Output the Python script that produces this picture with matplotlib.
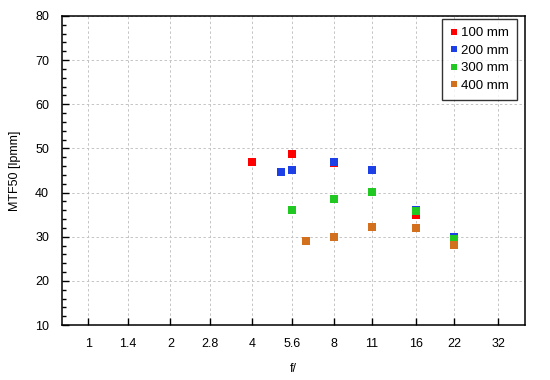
import matplotlib.pyplot as plt
from matplotlib.ticker import FixedLocator, MultipleLocator, NullLocator

plt.rcParams['font.family'] = ['Liberation Sans', 'DejaVu Sans']

# data
f_ticks = [1, 1.4, 2, 2.8, 4, 5.6, 8, 11, 16, 22, 32]
tick_labels = ['1', '1.4', '2', '2.8', '4', '5.6', '8', '11', '16', '22', '32']

f_100 = [4, 5.6, 8, 16]
mtf_100 = [46.85, 48.65, 46.6, 34.95]

f_200 = [5.1, 5.6, 8, 11, 16, 22]
mtf_200 = [44.6, 45.05, 47.0, 45.05, 36.1, 29.95]

f_300 = [5.6, 8, 11, 16, 22]
mtf_300 = [36.1, 38.5, 40.1, 35.85, 29.5]

f_400 = [6.3, 8, 11, 16, 22]
mtf_400 = [29.1, 30.0, 32.2, 32.0, 28.2]

series = [
    ('100 mm', f_100, mtf_100, '#ff0000'),
    ('200 mm', f_200, mtf_200, '#1c3fe6'),
    ('300 mm', f_300, mtf_300, '#22c822'),
    ('400 mm', f_400, mtf_400, '#d2701e'),
]

fig = plt.figure(figsize=(5.5, 3.8), dpi=100)
ax = fig.add_axes([0.112, 0.1447, 0.8427, 0.8133])

for name, x, y, c in series:
    ax.plot(x, y, 's', color=c, markersize=5.2, markeredgewidth=0, label=name)

ax.set_xscale('log', base=2)
ax.set_xlim(0.797, 40.1)
ax.set_ylim(10, 80)
ax.xaxis.set_major_locator(FixedLocator(f_ticks))
ax.set_xticklabels(tick_labels)
ax.xaxis.set_minor_locator(NullLocator())
ax.yaxis.set_major_locator(MultipleLocator(10))
ax.yaxis.set_minor_locator(MultipleLocator(2))

ax.tick_params(axis='both', which='both', direction='in', labelsize=9, colors='black', width=1)
ax.tick_params(axis='both', which='major', length=5, pad=9)
ax.tick_params(axis='y', which='minor', length=3)

ax.grid(True, which='major', color='#c4c4c4', linestyle=(0, (2.5, 2.5)), linewidth=0.7)
for s in ax.spines.values():
    s.set_linewidth(1.1)

ax.set_xlabel('f/', fontsize=9, labelpad=10)
ax.set_ylabel('MTF50 [lpmm]', fontsize=9, labelpad=10)

leg = ax.legend(loc='upper right', bbox_to_anchor=(0.9827, 0.99), fontsize=9.5,
                frameon=True, fancybox=False, edgecolor='black',
                handlelength=0.5, handletextpad=0.33, borderpad=0.6,
                labelspacing=0.4, borderaxespad=0, markerscale=0.92)
leg.get_frame().set_linewidth(1.0)

fig.savefig('out.png', dpi=100)
